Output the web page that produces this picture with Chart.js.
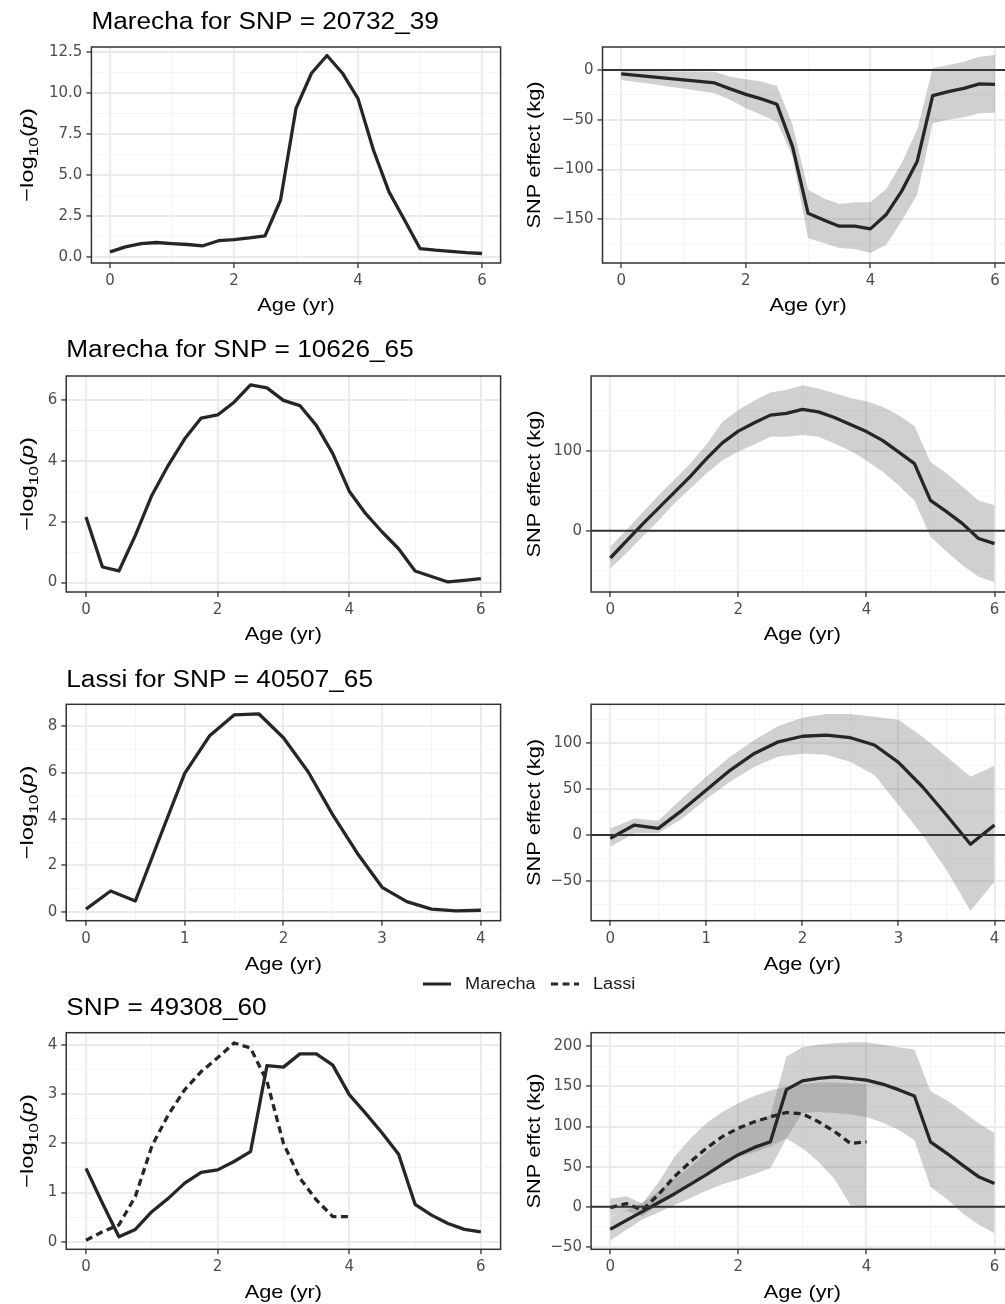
<!DOCTYPE html>
<html>
<head>
<meta charset="utf-8">
<title>SNP effects by age</title>
<script src="https://cdn.jsdelivr.net/npm/chart.js@4.4.1/dist/chart.umd.min.js"></script>
<style>
  html, body { margin: 0; background: #fff; }
  body { position: relative; width: 1005px; height: 1304px; overflow: hidden; }
  canvas { position: absolute; }
  #legend { position: absolute; left: 423px; top: 974px; height: 20px; display: flex; align-items: center;
    font: 15.8px "Liberation Sans", Arial, sans-serif; color: #1a1a1a; z-index: 2; }
  #legend svg { display: block; margin-right: 14px; }
  #legend span { display: inline-block; transform: scaleX(1.15); transform-origin: left center; margin-right: 25px; }
</style>
</head>
<body>
<div id="legend"></div>
<script>
// ages (yr)
const ages6 = [0, 0.25, 0.5, 0.75, 1, 1.25, 1.5, 1.75, 2, 2.25, 2.5, 2.75, 3, 3.25, 3.5, 3.75, 4, 4.25, 4.5, 4.75, 5, 5.25, 5.5, 5.75, 6]
const ages4 = [0, 0.25, 0.5, 0.75, 1, 1.25, 1.5, 1.75, 2, 2.25, 2.5, 2.75, 3, 3.25, 3.5, 3.75, 4]

const lineNames = ['Marecha', 'Lassi']

// SNP 20732_39 (Marecha)
const p1Log = [0.3, 0.6, 0.8, 0.87, 0.8, 0.75, 0.67, 0.98, 1.05, 1.15, 1.28, 3.45, 9.05, 11.2, 12.28, 11.2, 9.65, 6.5, 3.96, 2.24, 0.5, 0.4, 0.33, 0.25, 0.2]
const p1Eff = [-4, -5.5, -7, -8.5, -10, -11.5, -13, -19, -24.5, -29, -34.5, -77, -144, -150.7, -157, -157, -159.7, -145.6, -122, -92, -25.8, -21.8, -18.4, -14, -14.4]
const p1Up = [-1, -1, -1, -1.2, -1.4, -1.5, -1.7, -6.7, -9.4, -11.7, -16, -55, -120.5, -129, -134.6, -133, -133, -120, -94, -60, 1.7, 5, 8.4, 13.4, 15]
const p1Lo = [-10, -12, -14, -16.5, -18.5, -21, -23.5, -30, -38.5, -45, -52, -87, -169, -174, -179, -180, -184, -176, -152, -125.5, -53.6, -50, -47.5, -43.5, -43]

// SNP 10626_65 (Marecha)
const p2Log = [2.15, 0.51, 0.38, 1.55, 2.86, 3.85, 4.72, 5.4, 5.5, 5.92, 6.49, 6.39, 5.98, 5.81, 5.16, 4.23, 3.0, 2.26, 1.66, 1.11, 0.38, 0.2, 0.02, 0.07, 0.13]
const p2Eff = [-34, -13, 8, 28, 48, 68, 90, 110, 124.6, 135, 144.6, 146.7, 151.7, 148.7, 141.7, 133, 124, 113, 98.7, 84, 38, 24, 9, -9.6, -16]
const p2Up = [-20, 1, 22.5, 44, 64, 84, 108, 136, 151, 163, 173, 176, 182, 178, 172, 166, 162, 155, 144.6, 131, 86, 72, 55, 38, 32]
const p2Lo = [-47, -28, -7.5, 12.5, 34, 53, 71.7, 88, 99, 108, 117.5, 117.5, 119.6, 117.5, 109, 100, 88, 74, 57, 38, -7.5, -26, -43, -57.5, -64]

// SNP 40507_65 (Lassi)
const p3Log = [0.11, 0.89, 0.46, 3.23, 5.96, 7.57, 8.48, 8.53, 7.5, 6.03, 4.17, 2.51, 1.05, 0.43, 0.11, 0.03, 0.06]
const p3Eff = [-3.6, 10.8, 7.2, 27, 48.7, 70.4, 88.4, 101, 107, 108.3, 105.4, 97.5, 78.7, 52.3, 21.7, -10, 10.8]
const p3Up = [7, 18, 15.5, 40, 63, 85, 103, 118, 127, 131, 131, 128, 125, 106.5, 85, 63, 75]
const p3Lo = [-12.6, 2, 2, 18, 39, 58, 74, 85, 88, 87, 79, 65, 32.5, 0, -38, -82, -50.5]

// SNP 49308_60, both lines
const p4LogM = [1.49, 0.78, 0.1, 0.25, 0.61, 0.88, 1.19, 1.41, 1.46, 1.63, 1.83, 3.58, 3.55, 3.82, 3.82, 3.59, 2.99, 2.61, 2.21, 1.78, 0.76, 0.54, 0.37, 0.25, 0.2]
const p4LogL = [0.03, 0.2, 0.34, 0.92, 1.94, 2.58, 3.09, 3.46, 3.74, 4.04, 3.94, 3.26, 2.0, 1.29, 0.85, 0.51, 0.51]
const p4EffM = [-28, -17, -6, 5, 16, 28, 40, 53, 65, 74, 81, 146, 157, 160, 162, 160, 158, 153, 146, 138, 81, 67, 52, 37.5, 29]
const p4UpM = [-13, -4, 5, 19, 35, 50, 68, 83, 97, 106, 114, 187, 199, 202, 204, 205, 205, 202, 199, 196, 144, 133, 119, 104, 92]
const p4LoM = [-42, -29, -16, -7, 2, 11, 20, 28, 34, 41, 48, 85, 117, 118, 117, 115, 112, 105, 96, 83, 25, 10, -8, -22, -33]
const p4EffL = [-1, 4, -4, 15, 37.5, 56, 73, 87.5, 98, 106, 112, 117.5, 116, 106, 94, 79, 81]
const p4UpL = [10, 13, 4, 30, 62, 85, 104, 118, 129, 138, 145, 150, 153, 155, 155, 154, 153]
const p4LoL = [-12, -5, -12, 2, 15, 30, 43, 55, 62, 68, 75, 85, 73, 56, 35, 2, 0]

// tick labels
const xTicks6 = [0, 2, 4, 6]
const xTicks4 = [0, 1, 2, 3, 4]
const p1LogTicks = [0, 2.5, 5, 7.5, 10, 12.5]
const p1EffTicks = [-150, -100, -50, 0]
const p2LogTicks = [0, 2, 4, 6]
const p2EffTicks = [0, 100]
const p3LogTicks = [0, 2, 4, 6, 8]
const p3EffTicks = [-50, 0, 50, 100]
const p4LogTicks = [0, 1, 2, 3, 4]
const p4EffTicks = [-50, 0, 50, 100, 150, 200]

const FONT = '"Liberation Sans", Arial, sans-serif'
const TICK_FONT = '"DejaVu Sans", Verdana, sans-serif'
const WIDE = 1.17 // the reference lettering runs wider than Arial
const INK = '#262626'
const RIBBON = 'rgba(128, 128, 128, 0.37)'
const DASH = [7, 4.5]
const NONE = 'rgba(0, 0, 0, 0)'

const rows = [
  { top: 0, h: 320, plotTop: 47, plotBottom: 263, titleBase: 29, xTitleBase: 311 },
  { top: 325, h: 325, plotTop: 376, plotBottom: 592, titleBase: 356.7, xTitleBase: 640 },
  { top: 655, h: 322, plotTop: 704.3, plotBottom: 920.7, titleBase: 686.7, xTitleBase: 970 },
  { top: 990, h: 314, plotTop: 1032.7, plotBottom: 1249.3, titleBase: 1015, xTitleBase: 1298.3 }
]
const cols = {
  L: { left: 0, w: 504, plotRight: 500.6, yTitleX: 33 },
  R: { left: 504, w: 516, plotRight: 1013.7, yTitleX: 540 }
}

const panels = [
  { row: 0, col: 'L', plotLeft: 91.4, title: 'Marecha for SNP = 20732_39', xTicks: xTicks6,
    yMin: -0.38, yMax: 12.8, yTicks: p1LogTicks, dec: 1,
    series: [{ ages: ages6, y: p1Log }] },
  { row: 0, col: 'R', plotLeft: 602.5, yTitle: 'SNP effect (kg)', xTicks: xTicks6,
    yMin: -194, yMax: 23.1, yTicks: p1EffTicks, zero: true,
    series: [{ ages: ages6, y: p1Eff, up: p1Up, lo: p1Lo }] },
  { row: 1, col: 'L', plotLeft: 66.25, title: 'Marecha for SNP = 10626_65', xTicks: xTicks6,
    yMin: -0.31, yMax: 6.78, yTicks: p2LogTicks,
    series: [{ ages: ages6, y: p2Log }] },
  { row: 1, col: 'R', plotLeft: 591.1, yTitle: 'SNP effect (kg)', xTicks: xTicks6,
    yMin: -76.5, yMax: 193.5, yTicks: p2EffTicks, zero: true,
    series: [{ ages: ages6, y: p2Eff, up: p2Up, lo: p2Lo }] },
  { row: 2, col: 'L', plotLeft: 66.25, title: 'Lassi for SNP = 40507_65', xTicks: xTicks4,
    yMin: -0.39, yMax: 8.94, yTicks: p3LogTicks,
    series: [{ ages: ages4, y: p3Log }] },
  { row: 2, col: 'R', plotLeft: 591.1, yTitle: 'SNP effect (kg)', xTicks: xTicks4,
    yMin: -92.8, yMax: 141.6, yTicks: p3EffTicks, zero: true,
    series: [{ ages: ages4, y: p3Eff, up: p3Up, lo: p3Lo }] },
  { row: 3, col: 'L', plotLeft: 66.25, title: 'SNP = 49308_60', xTicks: xTicks6,
    yMin: -0.155, yMax: 4.25, yTicks: p4LogTicks,
    series: [{ ages: ages6, y: p4LogM }, { ages: ages4, y: p4LogL, dash: DASH }] },
  { row: 3, col: 'R', plotLeft: 591.1, yTitle: 'SNP effct (kg)', xTicks: xTicks6,
    yMin: -53, yMax: 217, yTicks: p4EffTicks, zero: true,
    series: [{ ages: ages6, y: p4EffM, up: p4UpM, lo: p4LoM }, { ages: ages4, y: p4EffL, up: p4UpL, lo: p4LoL, dash: DASH }] }
]

const pts = (xs, ys) => xs.map((x, i) => ({ x, y: ys[i] }))
const near = (a, b) => Math.abs(a - b) < 1e-9
const isMajor = (majors, tick) => !!tick && majors.some(m => near(m, tick.value))

// ggplot-style minor breaks halfway between majors, kept inside the limits
const withMinors = (majors, min, max) => {
  const step = majors.length > 1 ? majors[1] - majors[0] : 1
  const ext = [majors[0] - step, ...majors, majors[majors.length - 1] + step]
  const minors = ext.slice(1).map((m, i) => (m + ext[i]) / 2).filter(v => v >= min && v <= max)
  return [...majors, ...minors].sort((a, b) => a - b)
}

const fmt = dec => v => (v < 0 ? '\u2212' : '') + Math.abs(v).toFixed(dec)

const axis = (min, max, majors, dec, afterFit) => ({
  type: 'linear',
  min,
  max,
  afterBuildTicks: scale => { scale.ticks = withMinors(majors, min, max).map(value => ({ value })) },
  afterFit,
  border: { display: false },
  grid: {
    color: c => isMajor(majors, c.tick) ? '#ebebeb' : '#f3f3f3',
    lineWidth: c => isMajor(majors, c.tick) ? 1.9 : 0.9,
    tickColor: c => isMajor(majors, c.tick) ? '#333333' : NONE,
    tickLength: 5,
    tickWidth: 1.3
  },
  ticks: {
    autoSkip: false,
    maxRotation: 0,
    padding: 4,
    color: '#4d4d4d',
    font: { family: TICK_FONT, size: 15 },
    callback: v => majors.some(m => near(m, v)) ? fmt(dec)(v) : ''
  }
})

// text drawn wider along its run, like the reference lettering
const wideText = (ctx, text, x, y, font, align, rotate, wide = WIDE) => {
  ctx.save()
  ctx.translate(x, y)
  if (rotate) ctx.rotate(-Math.PI / 2)
  ctx.scale(wide, 1)
  ctx.font = font
  ctx.fillStyle = '#000'
  ctx.textAlign = align
  ctx.textBaseline = 'alphabetic'
  ctx.fillText(text, 0, 0)
  ctx.restore()
}

// rotated "−log10(p)" with subscript and italic p
const drawLogTitle = (ctx, x, cy) => {
  const parts = [
    ['\u2212log', `18.6px ${FONT}`, 0],
    ['10', `13.5px ${FONT}`, 5],
    ['(', `18.6px ${FONT}`, 0],
    ['p', `italic 18.6px ${FONT}`, 0],
    [')', `18.6px ${FONT}`, 0]
  ]
  ctx.save()
  ctx.translate(x, cy)
  ctx.rotate(-Math.PI / 2)
  ctx.scale(1.28, 1)
  ctx.fillStyle = '#000'
  ctx.textBaseline = 'alphabetic'
  ctx.textAlign = 'left'
  const widths = parts.map(([t, f]) => { ctx.font = f; return ctx.measureText(t).width })
  let pos = -widths.reduce((a, b) => a + b, 0) / 2
  parts.forEach(([t, f, dy], i) => {
    ctx.font = f
    ctx.fillText(t, pos, dy)
    pos += widths[i]
  })
  ctx.restore()
}

const makePanel = (p) => {
  const row = rows[p.row]
  const col = cols[p.col]
  const canvas = document.createElement('canvas')
  canvas.width = col.w
  canvas.height = row.h
  canvas.style.left = col.left + 'px'
  canvas.style.top = row.top + 'px'
  document.body.appendChild(canvas)

  const datasets = []
  p.series.forEach(s => {
    if (s.up) {
      datasets.push({ data: pts(s.ages, s.up), fill: '+1', backgroundColor: RIBBON, borderColor: NONE, borderWidth: 0, pointRadius: 0, order: 2 })
      datasets.push({ data: pts(s.ages, s.lo), fill: false, borderColor: NONE, borderWidth: 0, pointRadius: 0, order: 2 })
    }
    datasets.push({
      data: pts(s.ages, s.y),
      fill: false,
      borderColor: INK,
      borderWidth: 3.3,
      borderDash: s.dash || [],
      borderJoinStyle: 'round',
      pointRadius: 0,
      tension: 0,
      order: 0
    })
  })

  const xMaxData = p.xTicks[p.xTicks.length - 1]
  const xMin = -0.05 * xMaxData
  const xMax = 1.05 * xMaxData

  const decor = {
    id: 'decor',
    afterDatasetsDraw(chart) {
      if (!p.zero) return
      const { ctx, chartArea: a, scales: { y } } = chart
      const py = y.getPixelForValue(0)
      ctx.save()
      ctx.strokeStyle = '#333333'
      ctx.lineWidth = 2
      ctx.beginPath()
      ctx.moveTo(a.left, py)
      ctx.lineTo(a.right, py)
      ctx.stroke()
      ctx.restore()
    },
    afterDraw(chart) {
      const { ctx, chartArea: a } = chart
      ctx.save()
      ctx.strokeStyle = '#333333'
      ctx.lineWidth = 1.5
      ctx.strokeRect(a.left, a.top, a.right - a.left, a.bottom - a.top)
      ctx.restore()

      if (p.title) wideText(ctx, p.title, a.left, row.titleBase - row.top, `23.3px ${FONT}`, 'left', false, 1.125)
      wideText(ctx, 'Age (yr)', (a.left + a.right) / 2, row.xTitleBase - row.top, `18.6px ${FONT}`, 'center')

      const cy = (a.top + a.bottom) / 2
      const tx = col.yTitleX - col.left
      if (p.yTitle) wideText(ctx, p.yTitle, tx, cy, `18.6px ${FONT}`, 'center', true)
      else drawLogTitle(ctx, tx, cy)
    }
  }

  return new Chart(canvas, {
    type: 'line',
    data: { datasets },
    options: {
      responsive: false,
      animation: false,
      events: [],
      layout: {
        padding: { top: row.plotTop - row.top, right: col.left + col.w - col.plotRight, left: 0, bottom: 0 }
      },
      plugins: {
        legend: { display: false },
        tooltip: { enabled: false },
        title: { display: false }
      },
      scales: {
        x: axis(xMin, xMax, p.xTicks, 0, scale => { scale.height = row.top + row.h - row.plotBottom }),
        y: axis(p.yMin, p.yMax, p.yTicks, p.dec || 0, scale => { scale.width = p.plotLeft - col.left })
      }
    },
    plugins: [decor]
  })
}

panels.forEach(makePanel)

// shared legend for the two lines
const legend = document.querySelector('#legend')
lineNames.forEach((name, i) => {
  const dash = i === 0 ? '' : `stroke-dasharray="${DASH.join(',')}"`
  legend.insertAdjacentHTML('beforeend',
    `<svg width="28" height="6"><line x1="0" y1="3" x2="28" y2="3" stroke="${INK}" stroke-width="3" ${dash}/></svg><span>${name}</span>`)
})
</script>
</body>
</html>
